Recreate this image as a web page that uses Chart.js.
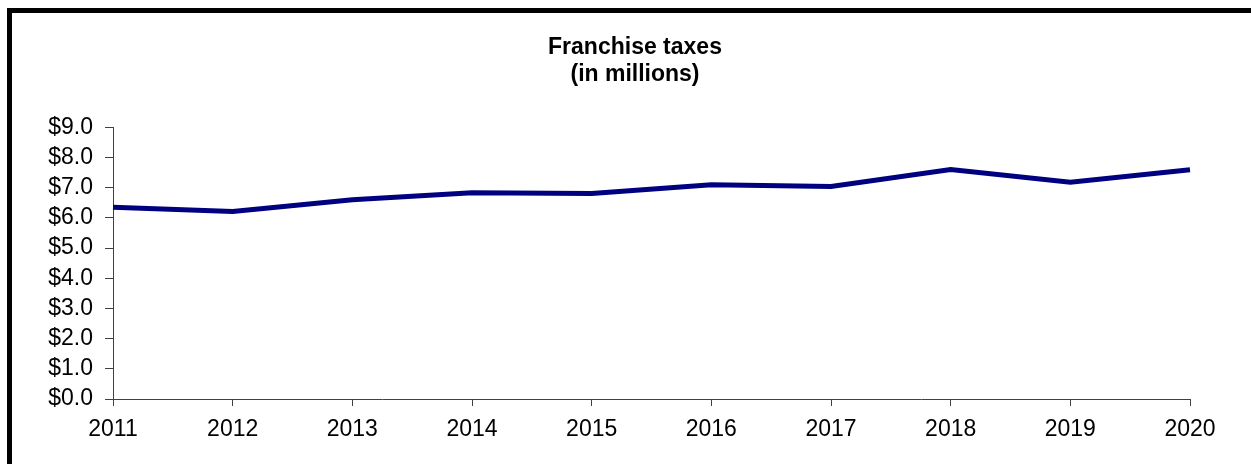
<!DOCTYPE html>
<html>
<head>
<meta charset="utf-8">
<script src="https://cdn.jsdelivr.net/npm/chart.js@4/dist/chart.umd.min.js"></script>
<style>
  html, body { margin: 0; padding: 0; background: #ffffff; }
  #wrap { width: 1251px; height: 464px; position: relative; }
</style>
</head>
<body>
<div id="wrap"><canvas id="chart" width="1251" height="464"></canvas></div>
<script>
// Franchise tax collections, in millions of dollars
const years = ['2011', '2012', '2013', '2014', '2015', '2016', '2017', '2018', '2019', '2020'];
const franchiseTaxes = [6.35, 6.21, 6.60, 6.83, 6.81, 7.10, 7.04, 7.60, 7.18, 7.59];
const titleLines = ['Franchise taxes', '(in millions)'];
const yMin = 0;
const yMax = 9;
const yStep = 1;

const FONT = '"Liberation Sans", Arial, sans-serif';
const AXIS_GRAY = '#404040';

// White page with a heavy black frame around the chart
const framePlugin = {
  id: 'frame',
  beforeDraw(chart) {
    const ctx = chart.ctx;
    ctx.save();
    ctx.fillStyle = '#ffffff';
    ctx.fillRect(0, 0, chart.width, chart.height);
    ctx.strokeStyle = '#000000';
    ctx.lineWidth = 5;
    ctx.strokeRect(9.5, 10.5, chart.width + 20, chart.height + 20);
    ctx.restore();
  }
};

new Chart(document.getElementById('chart'), {
  type: 'line',
  data: {
    labels: years,
    datasets: [{
      data: franchiseTaxes,
      borderColor: '#000080',
      backgroundColor: '#000080',
      borderWidth: 5,
      pointRadius: 0,
      pointHoverRadius: 0,
      tension: 0,
      fill: false
    }]
  },
  options: {
    responsive: false,
    animation: false,
    devicePixelRatio: 1,
    layout: { padding: { top: 34, left: 19, right: 0, bottom: 0 } },
    plugins: {
      legend: { display: false },
      tooltip: { enabled: false },
      title: {
        display: true,
        text: titleLines,
        color: '#000000',
        font: { family: FONT, size: 23, weight: 'bold', lineHeight: 1.18 },
        padding: { top: 0, bottom: 39 }
      }
    },
    scales: {
      x: {
        type: 'category',
        offset: false,
        afterFit(scale) {
          scale.height = 65;
          scale.paddingRight = 61;
        },
        grid: {
          drawOnChartArea: false,
          drawTicks: true,
          tickLength: 7,
          color: AXIS_GRAY,
          lineWidth: 1
        },
        border: { display: true, color: AXIS_GRAY, width: 1 },
        ticks: {
          color: '#000000',
          font: { family: FONT, size: 23 },
          padding: 10,
          maxRotation: 0,
          autoSkip: false
        }
      },
      y: {
        min: yMin,
        max: yMax,
        afterFit(scale) { scale.width = 94; },
        grid: {
          drawOnChartArea: false,
          drawTicks: true,
          tickLength: 8,
          color: AXIS_GRAY,
          lineWidth: 1
        },
        border: { display: true, color: AXIS_GRAY, width: 1 },
        ticks: {
          stepSize: yStep,
          autoSkip: false,
          color: '#000000',
          font: { family: FONT, size: 23 },
          padding: 12,
          callback: (v) => '$' + Number(v).toFixed(1)
        }
      }
    }
  },
  plugins: [framePlugin]
});
</script>
</body>
</html>
